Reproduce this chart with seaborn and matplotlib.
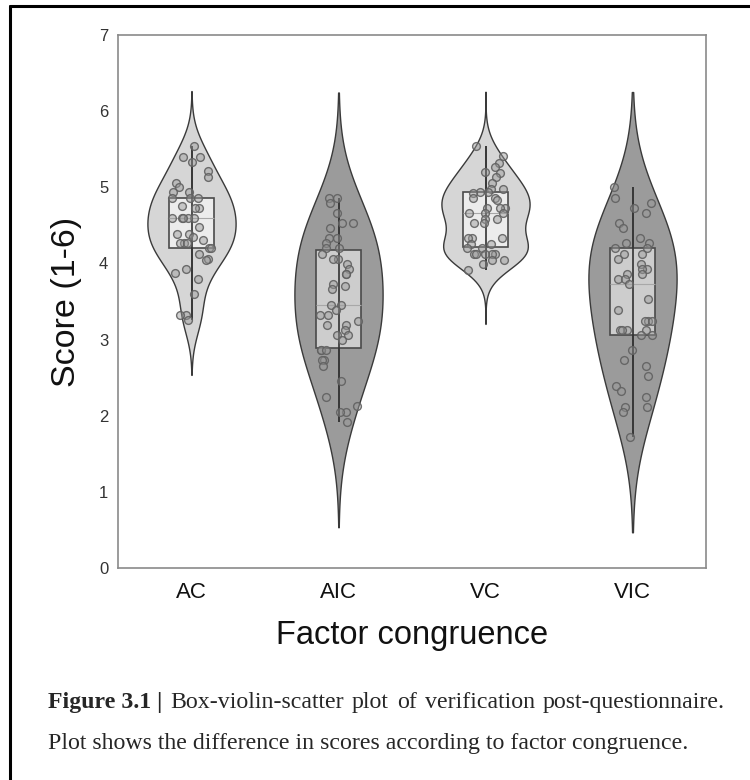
import numpy as np
import pandas as pd
import matplotlib
matplotlib.use("Agg")
import matplotlib.pyplot as plt
import seaborn as sns

categories = ["AC", "AIC", "VC", "VIC"]

ac_scores = [5.54, 5.40, 5.40, 5.33, 5.21, 5.13, 5.06, 5.00, 4.94, 4.94, 4.86, 4.86, 4.86,
             4.75, 4.73, 4.73, 4.60, 4.60, 4.60, 4.60, 4.60, 4.48, 4.39, 4.39, 4.35, 4.31,
             4.27, 4.27, 4.27, 4.20, 4.20, 4.13, 4.06, 4.04, 3.93, 3.87, 3.79, 3.60, 3.32,
             3.32, 3.26]
aic_scores = [4.86, 4.86, 4.79, 4.66, 4.53, 4.53, 4.46, 4.33, 4.33, 4.27, 4.20, 4.20, 4.13,
              4.06, 4.06, 3.99, 3.93, 3.86, 3.86, 3.73, 3.71, 3.66, 3.46, 3.46, 3.39, 3.32,
              3.32, 3.25, 3.19, 3.19, 3.12, 3.06, 3.06, 2.99, 2.86, 2.86, 2.86, 2.73, 2.73,
              2.65, 2.46, 2.25, 2.13, 2.05, 2.05, 1.92]
vc_scores = [5.54, 5.41, 5.32, 5.26, 5.20, 5.19, 5.13, 5.06, 4.98, 4.98, 4.94, 4.94, 4.93,
             4.86, 4.86, 4.83, 4.73, 4.73, 4.73, 4.66, 4.66, 4.66, 4.59, 4.59, 4.53, 4.53,
             4.34, 4.34, 4.33, 4.26, 4.26, 4.20, 4.20, 4.13, 4.13, 4.13, 4.13, 4.13, 4.05,
             4.05, 3.99, 3.92]
vic_scores = [5.00, 4.86, 4.79, 4.73, 4.66, 4.53, 4.46, 4.33, 4.27, 4.27, 4.20, 4.20, 4.13,
              4.13, 4.06, 3.99, 3.93, 3.93, 3.86, 3.86, 3.80, 3.80, 3.73, 3.53, 3.39, 3.25,
              3.25, 3.25, 3.12, 3.12, 3.12, 3.12, 3.06, 3.06, 2.86, 2.73, 2.65, 2.52, 2.39,
              2.33, 2.25, 2.12, 2.12, 2.05, 1.72]

y_ticks = [0, 1, 2, 3, 4, 5, 6, 7]
x_title = "Factor congruence"
y_title = "Score (1-6)"
caption_bold = "Figure 3.1 |"
caption_line1 = "Box-violin-scatter plot of verification post-questionnaire."
caption_line2 = "Plot shows the difference in scores according to factor congruence."

series = {"AC": ac_scores, "AIC": aic_scores, "VC": vc_scores, "VIC": vic_scores}
df = pd.DataFrame([(c, v) for c in categories for v in series[c]], columns=["cond", "score"])

violin_colors = {"AC": "#d6d6d6", "AIC": "#9b9b9b", "VC": "#d6d6d6", "VIC": "#9b9b9b"}
box_colors = {"AC": "#ececec", "AIC": "#cdcdcd", "VC": "#ececec", "VIC": "#cdcdcd"}
bw_adj = {"AC": 1.0, "AIC": 1.5, "VC": 1.0, "VIC": 1.5}
cuts = {"AC": 2.65, "AIC": 2.43, "VC": 3.45, "VIC": 2.07}

sns.set_style("white")
fig = plt.figure(figsize=(7.5, 7.8), dpi=100)
ax = fig.add_axes([118/750, 1-568/780, (706-118)/750, (568-35)/780])

for c in categories:
    sub = df[df.cond == c]
    sns.violinplot(data=sub, x="cond", y="score", order=categories, inner=None,
                   cut=cuts[c], bw_adjust=bw_adj[c], density_norm="width", width=0.6,
                   color=violin_colors[c], linewidth=1.0, linecolor="#3a3a3a",
                   saturation=1, ax=ax)

sns.boxplot(data=df, x="cond", y="score", order=categories, hue="cond",
            palette=box_colors, legend=False, width=0.3, whis=[0, 100], showcaps=False,
            fliersize=0, saturation=1, linewidth=1.2, linecolor="#4a4a4a",
            medianprops=dict(color="#a8a8a8", linewidth=0.8), ax=ax)

lo = [min(series[c]) for c in categories]
hi = [max(series[c]) for c in categories]
ax.vlines(range(len(categories)), lo, hi, color="#333333", linewidth=1.2, zorder=5)

n_coll = len(ax.collections)
np.random.seed(3)
sns.stripplot(data=df, x="cond", y="score", order=categories, jitter=0.14, size=5.6,
              color="#aaaaaa", linewidth=1.0, edgecolor="#6e6e6e", ax=ax, zorder=6)
for coll in ax.collections[n_coll:]:
    coll.set_facecolor((0.6, 0.6, 0.6, 0.45))
    coll.set_edgecolor((0.38, 0.38, 0.38, 0.9))

ax.set_xlim(-0.5, 3.5)
ax.set_ylim(0, 7)
ax.set_yticks(y_ticks)
ax.set_yticklabels([str(t) for t in y_ticks], fontsize=12, color="#333333",
                   family="Liberation Sans")
ax.set_xticks(range(len(categories)))
ax.set_xticklabels(categories, fontsize=16, color="#111111", family="Liberation Sans")
ax.tick_params(axis="x", length=0, pad=10)
ax.tick_params(axis="y", length=0, pad=7)
ax.set_xlabel(x_title, fontsize=23.5, family="Liberation Sans", labelpad=12, color="#111111")
ax.set_ylabel(y_title, fontsize=24.5, family="Liberation Sans", labelpad=12, color="#111111")
for s in ax.spines.values():
    s.set_color("#8a8a8a")
    s.set_linewidth(1.2)

# outer frame lines (top and left)
fig.add_artist(plt.Line2D([10/750, 1.0], [1-6/780, 1-6/780], color="black", linewidth=2.2,
                          transform=fig.transFigure))
fig.add_artist(plt.Line2D([10/750, 10/750], [0.0, 1-6/780], color="black", linewidth=2.2,
                          transform=fig.transFigure))

# caption
fs = 17.2
renderer = fig.canvas.get_renderer()
x0, x1 = 48, 725
y1 = 780 - 708
y2 = 780 - 749
tb = fig.text(x0/750, y1/780, caption_bold, fontsize=fs, family="Liberation Serif",
              weight="bold", ha="left", va="baseline")
wb = tb.get_window_extent(renderer).width
words = caption_line1.split()
widths = []
tmp = []
for w in words:
    t = fig.text(0, 0, w, fontsize=fs, family="Liberation Serif")
    widths.append(t.get_window_extent(renderer).width)
    tmp.append(t)
for t in tmp:
    t.remove()
start = x0 + wb
space = (x1 - start - sum(widths)) / len(words)
xpos = start + space
for w, wd in zip(words, widths):
    fig.text(xpos/750, y1/780, w, fontsize=fs, family="Liberation Serif", ha="left",
             va="baseline")
    xpos += wd + space
fig.text(x0/750, y2/780, caption_line2, fontsize=fs, family="Liberation Serif", ha="left",
         va="baseline")

fig.savefig("out.png", dpi=100)
